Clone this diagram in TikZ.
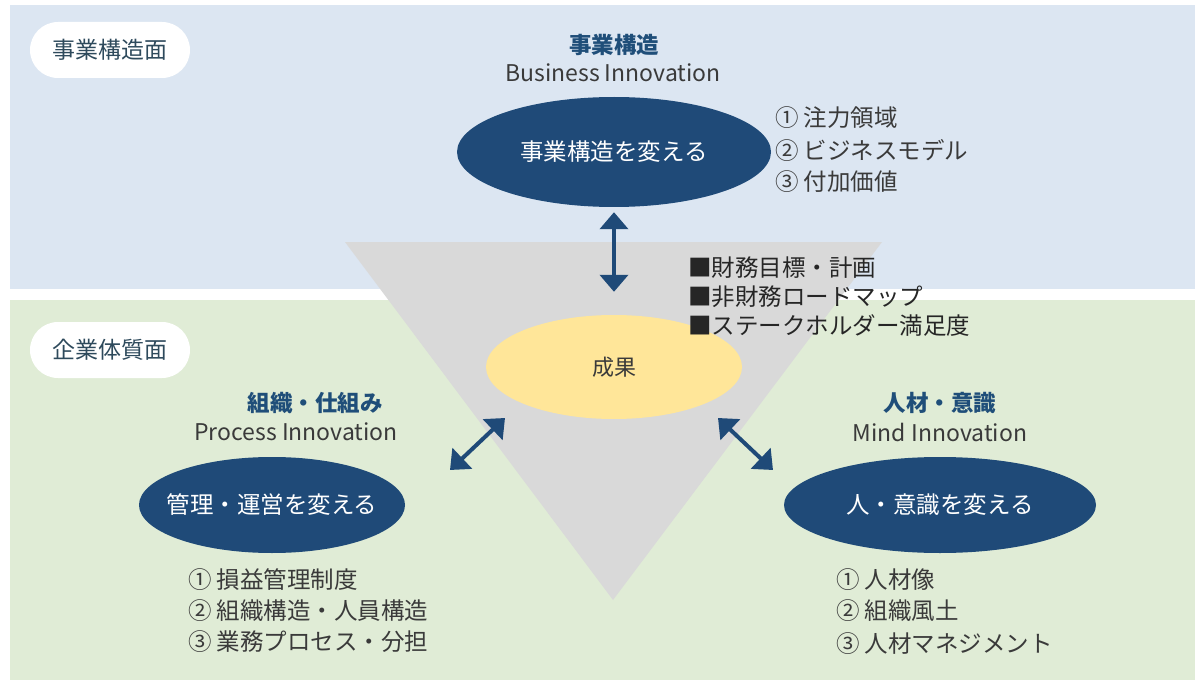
\documentclass[tikz,border=0pt]{standalone}
\usepackage{fontspec}
\setmainfont{Noto Sans CJK JP}
\usetikzlibrary{arrows.meta,shapes.geometric}
\definecolor{bandblue}{HTML}{DCE6F2}
\definecolor{bandgreen}{HTML}{E0ECD6}
\definecolor{navy}{HTML}{1F4A78}
\definecolor{headc}{HTML}{1F4E79}
\definecolor{tri}{HTML}{D9D9D9}
\definecolor{gold}{HTML}{FFE699}
\definecolor{txt}{HTML}{3A3A3A}
\definecolor{pilltxt}{HTML}{2E4A5C}
\tikzset{
  ell/.style={ellipse, fill=navy, text=white, inner xsep=-50pt, inner ysep=0pt, font=\fontsize{23.5}{26}\selectfont},
  pill/.style={rounded corners=28pt, fill=white, text=pilltxt, minimum width=160pt, minimum height=56pt, inner sep=0pt, font=\fontsize{23}{26}\selectfont},
  head/.style={text=headc, font=\fontsize{22.5}{26}\selectfont\bfseries},
  sub/.style={text=txt, font=\fontsize{23}{26}\selectfont},
  item/.style={text=txt, anchor=west, inner sep=0pt, font=\fontsize{23.5}{26}\selectfont},
  bitem/.style={text=black!85, anchor=west, inner sep=0pt, font=\fontsize{23.5}{26}\selectfont},
  dbl/.style={draw=navy, line width=4pt, {Triangle[length=17pt,width=28pt]}-{Triangle[length=17pt,width=28pt]}}
}
\begin{document}
\begin{tikzpicture}[x=1pt,y=-1pt]
\useasboundingbox (0,0) rectangle (1195,682);
\fill[white] (0,0) rectangle (1195,682);
\fill[bandblue] (10,5) rectangle (1195,289);
\fill[bandgreen] (10,300) rectangle (1195,680);
\fill[tri] (345,242) -- (882,242) -- (613,600) -- cycle;

\node[pill] (p1) at (110,50) {事業構造面};
\node[pill] (p2) at (110,350) {企業体質面};

\node[head] (h1) at (614,45) {事業構造};
\node[sub] (s1) at (613,73) {Business Innovation};
\node[ell, minimum width=314pt, minimum height=110pt] (biz) at (614,152) {事業構造を変える};

\node[item] (t1) at (775,118) {① 注力領域};
\node[item] (t2) at (775,150) {② ビジネスモデル};
\node[item] (t3) at (775,182) {③ 付加価値};

\node[ellipse, fill=gold, inner sep=0pt, minimum width=256pt, minimum height=104pt, text=txt, font=\fontsize{22}{26}\selectfont] (seika) at (614,367) {成果};

\node[bitem] (m1) at (688,268) {■財務目標・計画};
\node[bitem] (m2) at (688,297) {■非財務ロードマップ};
\node[bitem] (m3) at (688,326) {■ステークホルダー満足度};

\draw[dbl, shorten <=5pt, shorten >=23pt] (biz) -- (seika);

\node[head] (h2) at (315,403) {組織・仕組み};
\node[sub] (s2) at (296,432) {Process Innovation};
\node[ell, minimum width=266pt, minimum height=96pt] (proc) at (272,505) {管理・運営を変える};

\node[head] (h3) at (940,403) {人材・意識};
\node[sub] (s3) at (940,432) {Mind Innovation};
\node[ell, minimum width=312pt, minimum height=96pt] (mind) at (940,505) {人・意識を変える};

\coordinate (la1) at (450,470);
\coordinate (la2) at (505,418);
\coordinate (ra1) at (718,418);
\coordinate (ra2) at (773,470);
\draw[dbl] (la1) -- (la2);
\draw[dbl] (ra1) -- (ra2);

\node[item] (l1) at (188,580) {① 損益管理制度};
\node[item] (l2) at (188,611) {② 組織構造・人員構造};
\node[item] (l3) at (188,642) {③ 業務プロセス・分担};

\node[item] (r1) at (836,580) {① 人材像};
\node[item] (r2) at (836,611) {② 組織風土};
\node[item] (r3) at (836,644) {③ 人材マネジメント};
\end{tikzpicture}
\end{document}
